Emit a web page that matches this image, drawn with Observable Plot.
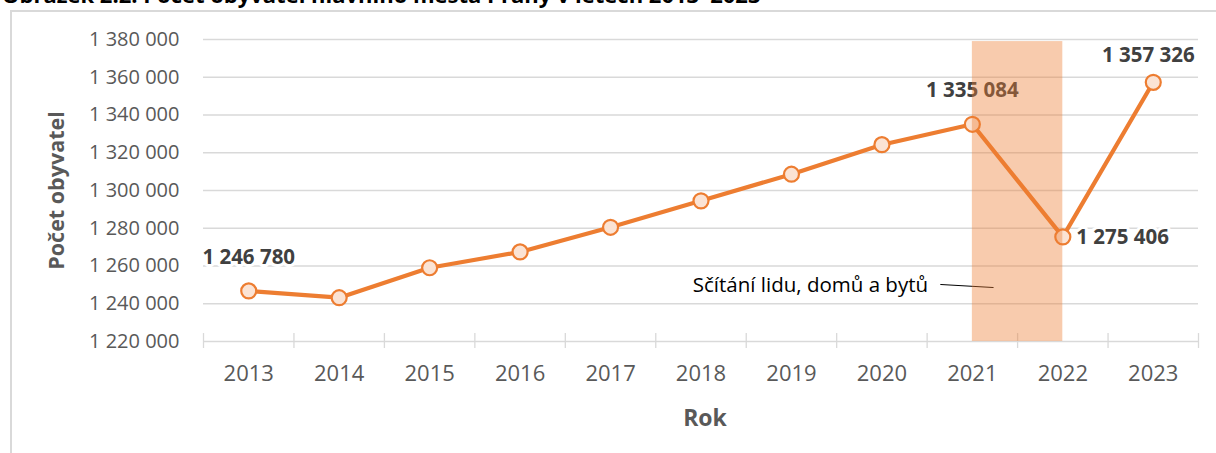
<!DOCTYPE html>
<html><head><meta charset="utf-8">
<script src="https://cdn.jsdelivr.net/npm/d3@7"></script>
<script src="https://cdn.jsdelivr.net/npm/@observablehq/plot@0.6"></script>
<style>
html,body{margin:0;padding:0;background:#fff;overflow:hidden;}
#wrap{position:relative;width:1216px;height:453px;}
#title{position:absolute;left:2px;top:-17px;font-family:"Open Sans",sans-serif;font-weight:700;font-size:22px;line-height:1;color:#000;white-space:nowrap;}
#frame{position:absolute;left:10px;top:10px;width:1220px;height:460px;border-left:2px solid #d9d9d9;border-top:2px solid #d9d9d9;box-sizing:border-box;}
#chart{position:absolute;left:0;top:0;}
</style></head>
<body>
<div id="wrap">
<div id="title">Obrázek 2.2: Počet obyvatel hlavního města Prahy v letech 2013–2023</div>
<div id="frame"></div>
<div id="chart"></div>
</div>
<script>
const years = [2013, 2014, 2015, 2016, 2017, 2018, 2019, 2020, 2021, 2022, 2023];
const population = [1246780, 1243201, 1259079, 1267449, 1280508, 1294513, 1308632, 1324277, 1335084, 1275406, 1357326];
const yTicks = [1220000, 1240000, 1260000, 1280000, 1300000, 1320000, 1340000, 1360000, 1380000];
const xTickBounds = [2012.5, 2013.5, 2014.5, 2015.5, 2016.5, 2017.5, 2018.5, 2019.5, 2020.5, 2021.5, 2022.5, 2023.5];
const labelYearsAbove = [2013, 2021];
const labelYearsAboveLeft = [2023];
const labelYearsRight = [2022];
const censusSpan = [{x1: 2021, x2: 2022}];
const censusText = "Sčítání lidu, domů a bytů";
const censusTextPos = {x: 2020.51, y: 1249700};
const censusLeader = [{x: 2020.65, y: 1250200}, {x: 2021.23, y: 1248600}];

const data = years.map((y, i) => ({year: y, value: population[i]}));
const fmt = v => d3.format(",")(v).replace(/,/g, " ");
const orange = "#ED7D31";
const font = "Open Sans, sans-serif";
const labelStyle = {fontSize: 20.5, fontWeight: "bold", fill: "#404040", stroke: "white", strokeWidth: 6, paintOrder: "stroke"};

const chart = Plot.plot({
  width: 1216,
  height: 453,
  marginLeft: 203,
  marginRight: 18,
  marginTop: 39,
  marginBottom: 112,
  style: {fontFamily: font, background: "transparent", overflow: "visible"},
  x: {domain: [2012.5, 2023.5]},
  y: {domain: [1220000, 1380000]},
  marks: [
    Plot.gridY(yTicks, {stroke: "#d9d9d9", strokeOpacity: 1, strokeWidth: 1.3}),
    Plot.axisY(yTicks, {tickSize: 0, tickPadding: 24, tickFormat: fmt, fontSize: 20, fill: "#595959", label: null}),
    Plot.axisX(years, {tickSize: 0, tickPadding: 24, tickFormat: d => String(d), fontSize: 22, fill: "#595959", label: null}),
    Plot.ruleX(xTickBounds, {y1: 1224200, y2: 1216300, stroke: "#d9d9d9", strokeWidth: 1.3}),
    Plot.text(["Počet obyvatel"], {frameAnchor: "left", textAnchor: "middle", lineAnchor: "middle", dx: -146, rotate: -90, fontSize: 21.5, fontWeight: "bold", fill: "#595959"}),
    Plot.text(["Rok"], {frameAnchor: "bottom", lineAnchor: "middle", dx: 4, dy: 77, fontSize: 23, fontWeight: "bold", fill: "#595959"}),
    Plot.line(data, {x: "year", y: "value", stroke: orange, strokeWidth: 4.2}),
    Plot.dot(data, {x: "year", y: "value", r: 7.5, fill: "#FBE3D4", stroke: orange, strokeWidth: 2.2}),
    Plot.text(data.filter(d => labelYearsAbove.includes(d.year)), {x: "year", y: "value", text: d => fmt(d.value), dy: -34, ...labelStyle}),
    Plot.text(data.filter(d => labelYearsAboveLeft.includes(d.year)), {x: "year", y: "value", text: d => fmt(d.value), dy: -27, dx: -5, ...labelStyle}),
    Plot.text(data.filter(d => labelYearsRight.includes(d.year)), {x: "year", y: "value", text: d => fmt(d.value), dx: 13.5, dy: 1, textAnchor: "start", ...labelStyle}),
    Plot.text([censusText], {x: censusTextPos.x, y: censusTextPos.y, textAnchor: "end", fontSize: 20.5, fill: "#000"}),
    Plot.line(censusLeader, {x: "x", y: "y", stroke: "#000", strokeWidth: 1}),
    Plot.rect(censusSpan, {x1: "x1", x2: "x2", y1: 1220000, y2: 1378900, fill: orange, fillOpacity: 0.4})
  ]
});
document.getElementById("chart").appendChild(chart);
</script>
</body></html>
